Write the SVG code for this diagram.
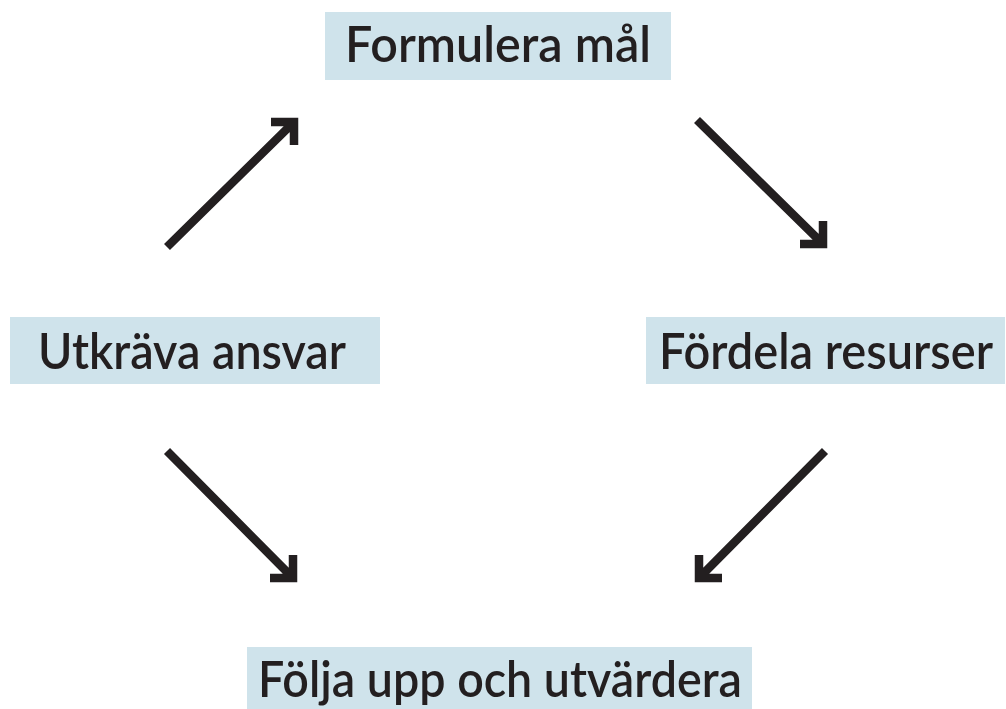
<svg xmlns="http://www.w3.org/2000/svg" width="1006" height="709" viewBox="0 0 1006 709">
<style>
.box{fill:#cfe3eb}
.lbl{font-family:Lato,"Noto Sans","DejaVu Sans",sans-serif;font-weight:600;font-size:50px;fill:#231f20;text-anchor:middle}
.arr{fill:none;stroke:#231f20;stroke-width:8.5;stroke-linejoin:miter;stroke-linecap:butt}
</style>
<rect width="1006" height="709" fill="#ffffff"/>
<g id="node-formulera">
<rect class="box" x="325" y="12" width="346" height="68"/>
<text class="lbl" x="498" y="62" textLength="306" lengthAdjust="spacingAndGlyphs">Formulera mål</text>
</g>
<g id="node-fordela">
<rect class="box" x="646" y="317" width="359" height="67"/>
<text class="lbl" x="826" y="369" textLength="334" lengthAdjust="spacingAndGlyphs">Fördela resurser</text>
</g>
<g id="node-folja">
<rect class="box" x="247" y="647" width="505" height="62"/>
<text class="lbl" x="500" y="697" textLength="484" lengthAdjust="spacingAndGlyphs">Följa upp och utvärdera</text>
</g>
<g id="node-utkrava">
<rect class="box" x="10" y="317" width="370" height="67"/>
<text class="lbl" x="192" y="369" textLength="308" lengthAdjust="spacingAndGlyphs">Utkräva ansvar</text>
</g>
<g id="connectors">
<path class="arr" d="M167,247 L294,122 M271,122 L294,122 L294,145"/>
<path class="arr" d="M697,120 L823,244 M823,221 L823,244 L800,244"/>
<path class="arr" d="M167,451 L293,578 M293,555 L293,578 L270,578"/>
<path class="arr" d="M825,451 L699,578 M699,555 L699,578 L722,578"/>
</g>
</svg>
